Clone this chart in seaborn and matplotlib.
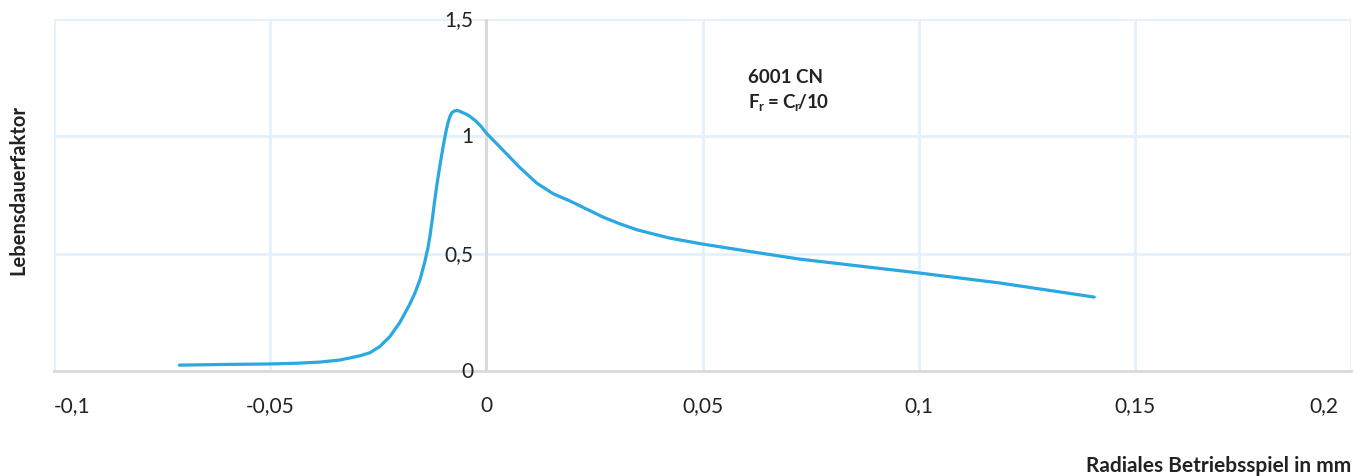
import matplotlib.pyplot as plt
import seaborn as sns
import pandas as pd

# === Data ===
spiel_mm = [-0.0710, -0.060, -0.050, -0.0440, -0.0385, -0.0338, -0.0292, -0.0269,
            -0.0246, -0.0223, -0.0200, -0.0177, -0.0165, -0.0153, -0.0142, -0.0135,
            -0.0130, -0.0124, -0.0119, -0.0113, -0.0107, -0.0101, -0.0096, -0.0092,
            -0.0088, -0.0084, -0.0080, -0.0074, -0.0068, -0.0063, -0.0058, -0.0052,
            -0.0045, -0.0038, -0.0025, -0.0012, 0.0, 0.0039, 0.0078, 0.0117,
            0.0155, 0.0194, 0.0232, 0.0271, 0.0309, 0.0348, 0.0386, 0.0425,
            0.0500, 0.0600, 0.0724, 0.0850, 0.1000, 0.1188, 0.1406]
lebensdauer = [0.025, 0.028, 0.030, 0.033, 0.038, 0.047, 0.065, 0.078,
               0.105, 0.147, 0.207, 0.285, 0.333, 0.392, 0.468, 0.525,
               0.580, 0.660, 0.733, 0.810, 0.880, 0.945, 0.995, 1.032,
               1.062, 1.085, 1.100, 1.108, 1.110, 1.108, 1.104, 1.099,
               1.093, 1.085, 1.066, 1.042, 1.014, 0.940, 0.866, 0.800,
               0.755, 0.724, 0.690, 0.655, 0.627, 0.602, 0.584, 0.566,
               0.541, 0.512, 0.477, 0.450, 0.418, 0.375, 0.315]

x_ticks = [-0.1, -0.05, 0, 0.05, 0.1, 0.15, 0.2]
x_labels = ["-0,1", "-0,05", "0", "0,05", "0,1", "0,15", "0,2"]
y_ticks = [0, 0.5, 1, 1.5]
y_labels = ["0", "0,5", "1", "1,5"]

df = pd.DataFrame({"spiel": spiel_mm, "faktor": lebensdauer})

sns.set_style("white")
plt.rcParams["font.family"] = ["Lato", "DejaVu Sans"]

fig = plt.figure(figsize=(13.65, 4.77), dpi=100)
ax = fig.add_axes([54 / 1365, 1 - 372 / 477, (1351 - 54) / 1365, (372 - 20) / 477])

grid_col = "#e4f1fb"
axis_col = "#d9d9d9"
line_col = "#2aa8e0"
text_col = "#222222"

# grid
for xt in x_ticks:
    ax.axvline(xt, color=grid_col, lw=2, zorder=0)
for yt in y_ticks[1:]:
    ax.axhline(yt, color=grid_col, lw=2, zorder=0)

sns.lineplot(data=df, x="spiel", y="faktor", ax=ax, color=line_col, lw=2.3, zorder=3)

ax.set_xlim(-0.1, 0.2)
ax.set_ylim(0, 1.5)

for s in ["top", "right", "left"]:
    ax.spines[s].set_visible(False)
ax.spines["bottom"].set_color(axis_col)
ax.spines["bottom"].set_linewidth(2)
ax.axvline(0, color=axis_col, lw=2.2, zorder=1)

ax.set_xticks([])
ax.set_yticks([])
ax.set_xlabel("")
ax.set_ylabel("")

# x tick labels
for i, (xt, lab) in enumerate(zip(x_ticks, x_labels)):
    ha = "center"
    if i == 0:
        ha = "left"
    elif i == len(x_ticks) - 1:
        ha = "right"
        xt = xt - 0.003
    ax.text(xt, -0.145, lab, ha=ha, va="center", fontsize=15, color=text_col)

# y tick labels next to the zero line
for yt, lab in zip(y_ticks, y_labels):
    ax.text(-0.003, yt, lab, ha="right", va="center", fontsize=15, color=text_col)

# annotation
ax.text(0.0605, 1.255, "6001 CN", fontsize=13.5, fontweight="bold", color=text_col, va="center")
ax.text(0.0605, 1.15, r"$\mathregular{F_r = C_r\!/10}$", fontsize=13.5, fontweight="bold",
        color=text_col, va="center")

fig.text(1351 / 1365, 1 - 466 / 477, "Radiales Betriebsspiel in mm", ha="right", va="center",
         fontsize=15, fontweight="bold", color=text_col)
fig.text(18 / 1365, 1 - 190 / 477, "Lebensdauerfaktor", rotation=90, ha="center", va="center",
         fontsize=14.5, fontweight="bold", color=text_col)

plt.savefig("out.png", dpi=100)
